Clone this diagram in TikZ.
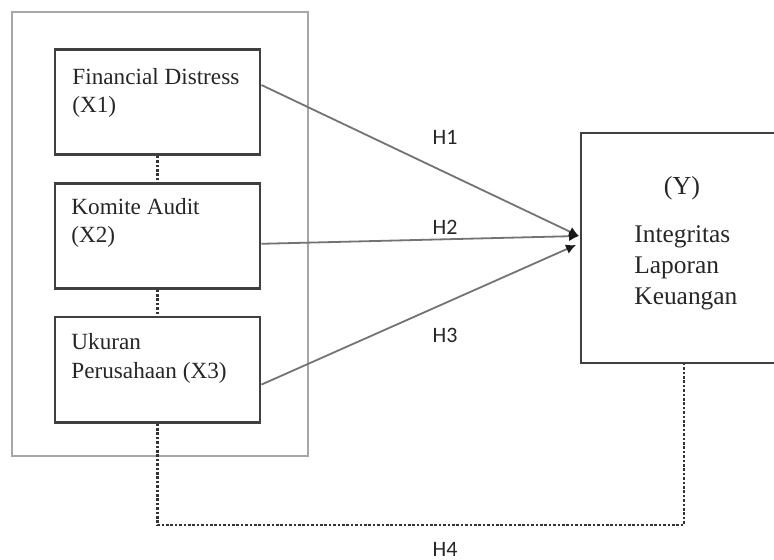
\documentclass[tikz,border=0pt]{standalone}
\usepackage{fontspec}
\setmainfont{Liberation Serif}
\newfontfamily\hfont{Carlito}
\usetikzlibrary{positioning,arrows.meta}

\begin{document}
\begin{tikzpicture}[x=0.5pt, y=-0.5pt, node distance=13pt,
                    var node/.style={rectangle,draw=black!75,line width=1.4pt,minimum width=102.5pt,minimum height=52.5pt},
                    var text/.style={anchor=base west,inner sep=0pt,align=left,font=\fontsize{11.6}{14}\selectfont,text=black!85},
                    hyp/.style={font=\hfont\fontsize{11}{13}\selectfont,text=black!85},
                    link/.style={draw=black!55,line width=0.9pt,-{Latex[length=5pt,width=5pt,color=black!90]}},
                    corr/.style={draw=black!80,line width=1.1pt,dash pattern=on 1.3pt off 0.9pt}]

   \useasboundingbox (0,0) rectangle (774,560);
   \draw[black!35,line width=1pt] (12,12) rectangle (308,456);

   \node[var node] (x1) at (157.5,102) {};
   \node[var node] (x2) [below=of x1] {};
   \node[var node] (x3) [below=of x2] {};
   \node[var node, minimum width=98pt, minimum height=115pt] (y) at (679,248) {};

   % base of a multi-line node is its last line
   \node[var text] (t1) at (72,113) {Financial Distress\\(X1)};
   \node[var text] (t2) at (71,243) {Komite Audit\\(X2)};
   \node[var text] (t3) at (71,378) {Ukuran\\Perusahaan (X3)};
   \node[font=\fontsize{13}{15}\selectfont,text=black!85] (ylab) at (682,188) {(Y)};
   \node[var text, font=\fontsize{12.7}{15.5}\selectfont] (ytxt) at (634,305) {Integritas\\Laporan\\Keuangan};

   \coordinate (tip) at (579,236);
   \coordinate (tip3) at (576,245);
   \coordinate (h4) at (684,525);

   % hypotheses
   \path
     ([yshift=8.5pt]x1.east) edge[link] (tip)
     ([yshift=-4pt]x2.east) edge[link] (tip)
     ([yshift=-7.5pt]x3.east) edge[link] (tip3);

   \draw[corr] (x1.south) -- (x2.north);
   \draw[corr] (x2.south) -- (x3.north);
   \draw[corr] (x3.south) |- (h4) -- (h4 |- y.south);

   \node[hyp] (h1) at (445,137) {H1};
   \node[hyp] (h2) at (445,227) {H2};
   \node[hyp] (h3) at (445,335) {H3};
   \node[hyp] (hh4) at (445,549) {H4};

\end{tikzpicture}
\end{document}
